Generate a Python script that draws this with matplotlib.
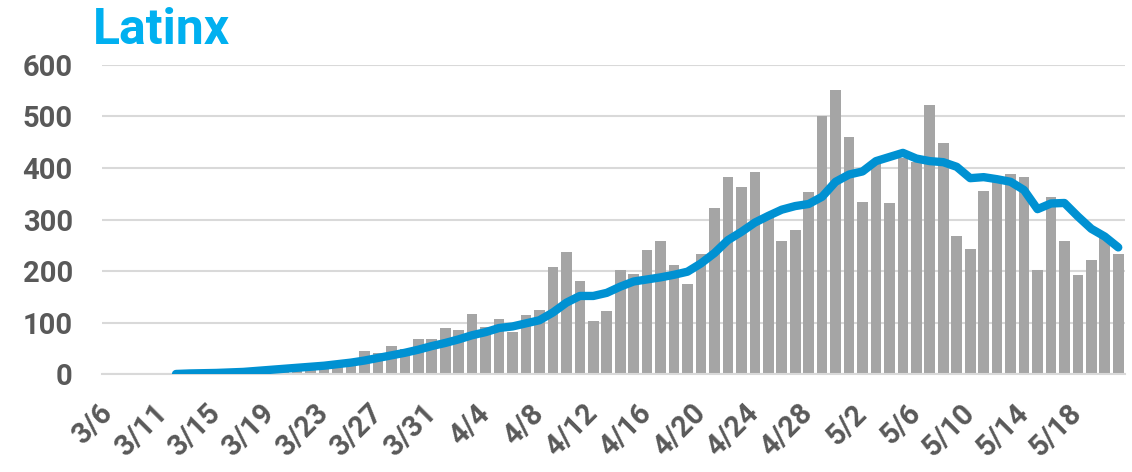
import matplotlib.pyplot as plt
import numpy as np

# categories: 3/6 then 3/8 .. 5/21 (3/7 absent from the data)
dates = ['3/6'] + ['3/%d' % d for d in range(8, 32)] + \
        ['4/%d' % d for d in range(1, 31)] + ['5/%d' % d for d in range(1, 22)]

# daily cases
cases = [0, 0, 0, 0, 0, 1, 1, 2, 2, 3,
         4, 4, 6, 7, 8, 10, 12, 14, 16, 45,
         42, 55, 50, 68, 68, 90, 87, 118, 91, 108,
         83, 116, 124, 208, 238, 181, 103, 122, 202, 194,
         240, 258, 212, 176, 234, 323, 383, 362, 391, 305,
         258, 279, 353, 501, 551, 460, 334, 410, 332, 419,
         412, 522, 448, 269, 243, 356, 372, 389, 383, 203,
         344, 258, 192, 222, 267, 234]

# 7-day average (starts 3/12)
avg = [None, None, None, None, None, 1, 2, 2.5, 3, 4,
       5, 7, 9, 11, 13, 15, 17, 20, 23, 27,
       32, 37, 42, 48, 55, 61, 68, 76, 82, 90,
       93, 99, 105, 120, 139, 152, 152, 158, 170, 180,
       184, 188, 193, 199, 215, 235, 260, 276, 294, 307,
       319, 326, 330, 344, 373, 387, 393, 413, 421, 429,
       418, 413, 411, 402, 380, 382, 378, 373, 357, 320,
       331, 332, 306, 282, 267, 246]

x = np.arange(len(dates))
avg_arr = np.array([np.nan if v is None else v for v in avg], dtype=float)

fig = plt.figure(figsize=(11.32, 4.72), dpi=100)
ax = fig.add_axes([0.0901, 0.2066, 0.9037, 0.6567])

ax.bar(x, cases, width=0.79, color='#A5A5A5', zorder=2)
ax.plot(x, avg_arr, color='#0091D2', linewidth=6, solid_capstyle='round',
        solid_joinstyle='round', zorder=3)

ax.set_xlim(-0.5, len(dates) - 0.5)
ax.set_ylim(0, 600)
ax.set_yticks(range(0, 601, 100))
ax.yaxis.grid(True, color='#D9D9D9', linewidth=1.5, zorder=0)
ax.set_axisbelow(True)

for s in ['top', 'right', 'left']:
    ax.spines[s].set_visible(False)
ax.spines['bottom'].set_color('#D9D9D9')
ax.spines['bottom'].set_linewidth(1.5)

ax.tick_params(axis='y', length=0, pad=21, labelsize=21, labelcolor='#595959')
ax.tick_params(axis='x', length=0, pad=25, labelsize=21, labelcolor='#595959')
for t in ax.get_yticklabels():
    t.set_fontweight('bold')
    t.set_family('Roboto')

ax.set_xticks(x[::4])
ax.set_xticklabels(dates[::4], rotation=45, ha='right', va='center',
                   rotation_mode='anchor', fontweight='bold', family='Roboto')

fig.text(0.082, 0.985, 'Latinx', color='#00B0F0', fontsize=36, fontweight='bold',
         family='Roboto', va='top', ha='left')

fig.savefig('out.png', dpi=100)
